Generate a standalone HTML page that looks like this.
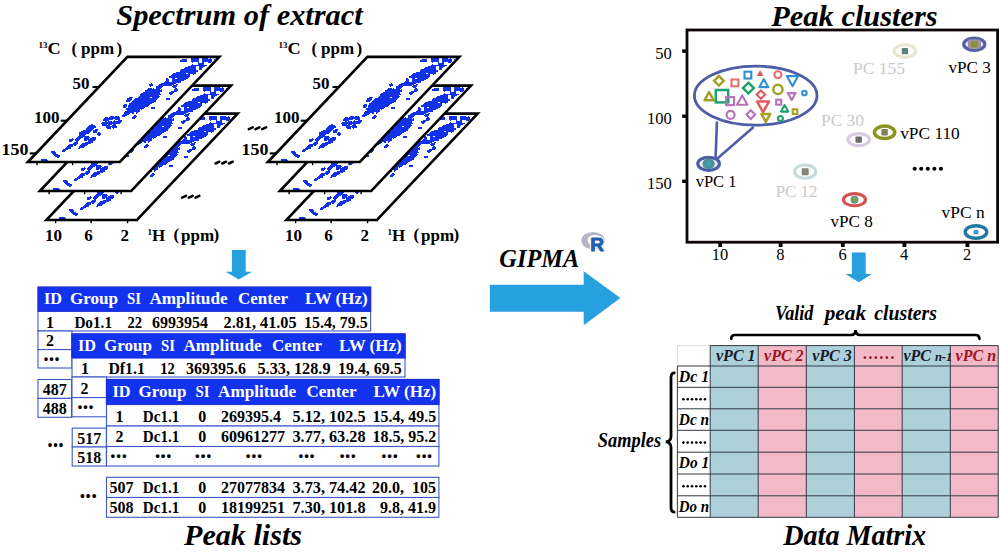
<!DOCTYPE html>
<html><head><meta charset="utf-8"><title>GIPMA workflow</title>
<style>html,body{margin:0;padding:0;background:#fff}svg{display:block}text{font-family:"Liberation Serif", serif;white-space:pre}</style></head><body>
<svg width="1000" height="555" viewBox="0 0 1000 555" font-family='"Liberation Serif", serif'>
<rect width="1000" height="555" fill="#fff"/>
<defs>
<path id="blob" d="M191 58h8v1h-8zM202 58h6v1h-6zM210 58h1v1h-1zM182 59h5v1h-5zM191 59h8v1h-8zM202 59h10v1h-10zM214 59h1v1h-1zM180 60h7v1h-7zM191 60h8v1h-8zM202 60h10v1h-10zM180 61h7v1h-7zM191 61h8v1h-8zM202 61h10v1h-10zM192 62h1v1h-1zM198 62h1v1h-1zM202 62h2v1h-2zM208 62h3v1h-3zM198 63h6v1h-6zM192 64h1v1h-1zM198 64h6v1h-6zM191 65h16v1h-16zM188 66h8v1h-8zM199 66h6v1h-6zM185 67h11v1h-11zM199 67h4v1h-4zM184 68h12v1h-12zM199 68h3v1h-3zM181 69h15v1h-15zM199 69h3v1h-3zM180 70h18v1h-18zM180 71h18v1h-18zM176 72h20v1h-20zM173 73h13v1h-13zM188 73h8v1h-8zM172 74h18v1h-18zM193 74h1v1h-1zM171 75h19v1h-19zM169 76h21v1h-21zM169 77h20v1h-20zM166 78h2v1h-2zM172 78h3v1h-3zM177 78h11v1h-11zM166 79h3v1h-3zM172 79h14v1h-14zM166 80h3v1h-3zM172 80h12v1h-12zM165 81h4v1h-4zM172 81h9v1h-9zM164 82h17v1h-17zM151 83h1v1h-1zM161 83h15v1h-15zM149 84h4v1h-4zM159 84h15v1h-15zM176 84h2v1h-2zM149 85h4v1h-4zM158 85h14v1h-14zM173 85h4v1h-4zM150 86h1v1h-1zM156 86h7v1h-7zM172 86h5v1h-5zM156 87h6v1h-6zM173 87h3v1h-3zM148 88h4v1h-4zM153 88h1v1h-1zM156 88h5v1h-5zM175 88h2v1h-2zM147 89h13v1h-13zM161 89h1v1h-1zM174 89h4v1h-4zM145 90h17v1h-17zM174 90h4v1h-4zM145 91h17v1h-17zM171 91h6v1h-6zM143 92h17v1h-17zM169 92h5v1h-5zM141 93h19v1h-19zM169 93h4v1h-4zM140 94h21v1h-21zM170 94h2v1h-2zM140 95h19v1h-19zM139 96h21v1h-21zM129 97h4v1h-4zM138 97h12v1h-12zM152 97h7v1h-7zM127 98h5v1h-5zM135 98h23v1h-23zM166 98h4v1h-4zM127 99h5v1h-5zM134 99h23v1h-23zM166 99h4v1h-4zM126 100h5v1h-5zM133 100h23v1h-23zM126 101h4v1h-4zM132 101h24v1h-24zM131 102h23v1h-23zM129 103h23v1h-23zM124 104h3v1h-3zM129 104h21v1h-21zM123 105h4v1h-4zM128 105h21v1h-21zM123 106h4v1h-4zM128 106h20v1h-20zM123 107h3v1h-3zM128 107h17v1h-17zM151 107h4v1h-4zM126 108h18v1h-18zM151 108h4v1h-4zM126 109h14v1h-14zM141 109h1v1h-1zM127 110h13v1h-13zM125 111h15v1h-15zM124 112h10v1h-10zM136 112h2v1h-2zM124 113h6v1h-6zM132 113h2v1h-2zM136 113h1v1h-1zM123 114h6v1h-6zM122 115h5v1h-5zM134 115h2v1h-2zM110 116h4v1h-4zM115 116h4v1h-4zM122 116h3v1h-3zM133 116h4v1h-4zM105 117h3v1h-3zM109 117h11v1h-11zM132 117h4v1h-4zM104 118h16v1h-16zM132 118h3v1h-3zM103 119h10v1h-10zM115 119h5v1h-5zM103 120h6v1h-6zM114 120h1v1h-1zM118 120h4v1h-4zM105 121h2v1h-2zM108 121h4v1h-4zM113 121h9v1h-9zM102 122h19v1h-19zM101 123h19v1h-19zM91 124h2v1h-2zM102 124h5v1h-5zM108 124h4v1h-4zM113 124h3v1h-3zM89 125h6v1h-6zM102 125h8v1h-8zM112 125h4v1h-4zM88 126h8v1h-8zM106 126h11v1h-11zM87 127h9v1h-9zM106 127h5v1h-5zM112 127h5v1h-5zM86 128h8v1h-8zM107 128h4v1h-4zM113 128h1v1h-1zM86 129h7v1h-7zM95 129h3v1h-3zM83 130h9v1h-9zM93 130h5v1h-5zM81 131h10v1h-10zM93 131h4v1h-4zM79 132h11v1h-11zM93 132h4v1h-4zM98 132h2v1h-2zM79 133h10v1h-10zM97 133h4v1h-4zM79 134h7v1h-7zM97 134h4v1h-4zM79 135h6v1h-6zM98 135h2v1h-2zM78 136h11v1h-11zM77 137h6v1h-6zM84 137h6v1h-6zM92 137h4v1h-4zM72 138h1v1h-1zM76 138h5v1h-5zM84 138h5v1h-5zM90 138h6v1h-6zM69 139h5v1h-5zM75 139h5v1h-5zM84 139h12v1h-12zM69 140h4v1h-4zM75 140h4v1h-4zM84 140h3v1h-3zM88 140h7v1h-7zM69 141h3v1h-3zM76 141h2v1h-2zM88 141h5v1h-5zM74 142h4v1h-4zM85 142h8v1h-8zM73 143h5v1h-5zM82 143h9v1h-9zM69 144h8v1h-8zM81 144h7v1h-7zM68 145h5v1h-5zM74 145h2v1h-2zM80 145h7v1h-7zM67 146h6v1h-6zM79 146h6v1h-6zM66 147h5v1h-5zM79 147h5v1h-5zM65 148h6v1h-6zM78 148h2v1h-2zM63 149h5v1h-5zM62 150h4v1h-4zM51 151h4v1h-4zM62 151h3v1h-3zM51 152h5v1h-5zM52 153h4v1h-4zM53 154h5v1h-5zM54 155h6v1h-6zM55 156h5v1h-5zM57 157h2v1h-2zM41 159h6v1h-6zM41 160h7v1h-7zM41 161h6v1h-6z" fill="#1232ea" shape-rendering="crispEdges"/>
<clipPath id="cs3"><polygon points="46.35,220.00 136.95,220.00 237.71,113.60 147.11,113.60"/></clipPath>
<g id="sheet3"><polygon points="46.35,220.00 136.95,220.00 237.71,113.60 147.11,113.60" fill="#fff"/><g clip-path="url(#cs3)"><use href="#blob" x="18" y="58"/></g><path d="M55.6 220.0v3.3M91.1 220.0v3.3M127.6 220.0v3.3" stroke="#000" stroke-width="1.4" fill="none"/><polygon points="46.35,220.00 136.95,220.00 237.71,113.60 147.11,113.60" fill="none" stroke="#000" stroke-width="2.6" stroke-linejoin="miter" stroke-miterlimit="10"/></g>
<clipPath id="cs2"><polygon points="39.85,191.00 131.25,191.00 231.06,85.60 139.66,85.60"/></clipPath>
<g id="sheet2"><polygon points="39.85,191.00 131.25,191.00 231.06,85.60 139.66,85.60" fill="#fff"/><g clip-path="url(#cs2)"><use href="#blob" x="12" y="29"/></g><path d="M49.1 191.0v3.3M84.6 191.0v3.3M121.1 191.0v3.3" stroke="#000" stroke-width="1.4" fill="none"/><polygon points="39.85,191.00 131.25,191.00 231.06,85.60 139.66,85.60" fill="none" stroke="#000" stroke-width="2.6" stroke-linejoin="miter" stroke-miterlimit="10"/></g>
<clipPath id="cs1"><polygon points="27.85,162.00 119.85,162.00 219.38,56.90 127.38,56.90"/></clipPath>
<g id="sheet1"><polygon points="27.85,162.00 119.85,162.00 219.38,56.90 127.38,56.90" fill="#fff"/><g clip-path="url(#cs1)"><use href="#blob" x="0" y="0"/></g><path d="M37.1 162.0v3.3M72.6 162.0v3.3M109.1 162.0v3.3" stroke="#000" stroke-width="1.4" fill="none"/><polygon points="27.85,162.00 119.85,162.00 219.38,56.90 127.38,56.90" fill="none" stroke="#000" stroke-width="2.6" stroke-linejoin="miter" stroke-miterlimit="10"/></g>
<g id="stack">
<use href="#sheet3"/>
<use href="#sheet2"/>
<use href="#sheet1"/>
<path d="M92.6 87.0h6.3" stroke="#000" stroke-width="2.1"/>
<path d="M60.7 120.7h6.3" stroke="#000" stroke-width="2.1"/>
<path d="M29.7 153.4h6.3" stroke="#000" stroke-width="2.1"/>
<text x="38.5" y="54.4" font-size="17" font-weight="bold"><tspan font-size="9" dy="-6">13</tspan><tspan dy="6" textLength="13.2" lengthAdjust="spacingAndGlyphs">C</tspan></text>
<text x="71.5" y="53.6" font-size="17" font-weight="bold">(</text>
<text x="81" y="54.4" font-size="17" font-weight="bold">ppm</text>
<text x="116.5" y="53.6" font-size="17" font-weight="bold">)</text>
<text x="89.4" y="88.5" font-size="17" font-weight="bold" text-anchor="end">50</text>
<text x="59.6" y="123.3" font-size="17" font-weight="bold" text-anchor="end">100</text>
<text x="28.4" y="154.9" font-size="17.5" font-weight="bold" text-anchor="end" textLength="26.8" lengthAdjust="spacingAndGlyphs">150</text>
<text x="53.6" y="240.5" font-size="17" font-weight="bold" text-anchor="middle">10</text>
<text x="88.5" y="240.5" font-size="17" font-weight="bold" text-anchor="middle">6</text>
<text x="124.7" y="240.5" font-size="17" font-weight="bold" text-anchor="middle">2</text>
<text x="147.6" y="240.6" font-size="17" font-weight="bold"><tspan font-size="9" dy="-6">1</tspan><tspan dy="6">H</tspan></text>
<text x="173.5" y="239.8" font-size="17" font-weight="bold">(</text>
<text x="181" y="240.6" font-size="17" font-weight="bold">ppm</text>
<text x="213.5" y="239.8" font-size="17" font-weight="bold">)</text>
</g>
</defs>
<text x="239.5" y="25.3" font-size="30" font-weight="bold" font-style="italic" text-anchor="middle" textLength="246.5" lengthAdjust="spacingAndGlyphs">Spectrum of extract</text>
<text x="854.5" y="25.8" font-size="30" font-weight="bold" font-style="italic" text-anchor="middle" textLength="166.4" lengthAdjust="spacingAndGlyphs">Peak clusters</text>
<text x="243" y="544.8" font-size="30" font-weight="bold" font-style="italic" text-anchor="middle" textLength="118" lengthAdjust="spacingAndGlyphs">Peak lists</text>
<text x="854.7" y="544.8" font-size="29" font-weight="bold" font-style="italic" text-anchor="middle" textLength="143" lengthAdjust="spacingAndGlyphs">Data Matrix</text>
<use href="#stack"/>
<use href="#stack" x="240"/>
<path d="M248.8 129.2L252.7 127.4M255.5 129.2L259.4 127.4M262.2 129.2L266.1 127.4M215.5 163.5L219.4 161.7M222.2 163.5L226.1 161.7M228.9 163.5L232.8 161.7M182.1 197.7L186.0 195.9M188.8 197.7L192.7 195.9M195.5 197.7L199.4 195.9" stroke="#000" stroke-width="2.5" stroke-linecap="round" fill="none"/>
<polygon fill="#27a0df" points="231.9,250.1 245.7,250.1 245.7,271.8 252.1,271.8 238.8,279.5 225.6,271.8 231.9,271.8"/>
<polygon fill="#27a0df" points="851.9,252.4 865.7,252.4 865.7,274.0 872.0,274.0 858.8,282.2 845.5,274.0 851.9,274.0"/>
<polygon fill="#27a0df" points="489.8,284.8 583.7,284.8 583.7,271.3 620.4,297.9 583.7,325.3 583.7,311.8 489.8,311.8"/>
<text x="499.3" y="266.8" font-size="25" font-weight="bold" font-style="italic" textLength="80" lengthAdjust="spacingAndGlyphs">GIPMA</text>
<rect x="38" y="287" width="332.6" height="44" fill="#fff" stroke="#3d58c8" stroke-width="1.1"/>
<rect x="38" y="331" width="34" height="18.600000000000023" fill="#fff" stroke="#3d58c8" stroke-width="1.1"/>
<rect x="38" y="349.6" width="34" height="18.399999999999977" fill="#fff" stroke="#3d58c8" stroke-width="1.1"/>
<rect x="38.0" y="287.09999999999997" width="332.8" height="24.5" fill="#1332ee" stroke="#1626d2" stroke-width="0.8"/>
<text x="44" y="303.6" font-size="17" font-weight="bold" fill="#fff" textLength="18" lengthAdjust="spacingAndGlyphs">ID</text>
<text x="70" y="303.6" font-size="17" font-weight="bold" fill="#fff" textLength="48" lengthAdjust="spacingAndGlyphs">Group</text>
<text x="127" y="303.6" font-size="17" font-weight="bold" fill="#fff" textLength="14" lengthAdjust="spacingAndGlyphs">SI</text>
<text x="149.4" y="303.6" font-size="17" font-weight="bold" fill="#fff" textLength="78.2" lengthAdjust="spacingAndGlyphs">Amplitude</text>
<text x="238" y="303.6" font-size="17" font-weight="bold" fill="#fff" textLength="50" lengthAdjust="spacingAndGlyphs">Center</text>
<text x="305" y="303.6" font-size="17" font-weight="bold" fill="#fff" textLength="62.6" lengthAdjust="spacingAndGlyphs">LW (Hz)</text>
<text x="50" y="327.5" font-size="16" font-weight="bold" text-anchor="middle">1</text>
<text x="74.4" y="327.5" font-size="16" font-weight="bold" textLength="37.6" lengthAdjust="spacingAndGlyphs">Do1.1</text>
<text x="127.4" y="327.5" font-size="16" font-weight="bold" textLength="14.6" lengthAdjust="spacingAndGlyphs">22</text>
<text x="152" y="327.5" font-size="16" font-weight="bold" textLength="56" lengthAdjust="spacingAndGlyphs">6993954</text>
<text x="223.6" y="327.5" font-size="16" font-weight="bold" textLength="73" lengthAdjust="spacingAndGlyphs">2.81, 41.05</text>
<text x="304" y="327.5" font-size="16" font-weight="bold" textLength="63.6" lengthAdjust="spacingAndGlyphs">15.4, 79.5</text>
<text x="50" y="346.0" font-size="16" font-weight="bold" text-anchor="middle">2</text>
<text x="43.3" y="360.8" font-size="24" font-weight="bold" textLength="16.5" lengthAdjust="spacingAndGlyphs">...</text>
<rect x="38" y="379.5" width="33.599999999999994" height="18.899999999999977" fill="#fff" stroke="#3d58c8" stroke-width="1.1"/>
<rect x="38" y="398.4" width="33.599999999999994" height="18.900000000000034" fill="#fff" stroke="#3d58c8" stroke-width="1.1"/>
<text x="54.8" y="395.0" font-size="16" font-weight="bold" text-anchor="middle">487</text>
<text x="54.8" y="414.0" font-size="16" font-weight="bold" text-anchor="middle">488</text>
<rect x="72" y="334" width="333" height="43" fill="#fff" stroke="#3d58c8" stroke-width="1.1"/>
<rect x="72" y="377" width="34.5" height="20.600000000000023" fill="#fff" stroke="#3d58c8" stroke-width="1.1"/>
<rect x="72" y="397.6" width="34.5" height="19.19999999999999" fill="#fff" stroke="#3d58c8" stroke-width="1.1"/>
<rect x="71.80000000000001" y="333.79999999999995" width="333.4" height="24.3" fill="#1332ee" stroke="#1626d2" stroke-width="0.8"/>
<text x="78" y="350.6" font-size="17" font-weight="bold" fill="#fff" textLength="18" lengthAdjust="spacingAndGlyphs">ID</text>
<text x="104" y="350.6" font-size="17" font-weight="bold" fill="#fff" textLength="48" lengthAdjust="spacingAndGlyphs">Group</text>
<text x="161" y="350.6" font-size="17" font-weight="bold" fill="#fff" textLength="14" lengthAdjust="spacingAndGlyphs">SI</text>
<text x="183.4" y="350.6" font-size="17" font-weight="bold" fill="#fff" textLength="78.2" lengthAdjust="spacingAndGlyphs">Amplitude</text>
<text x="272" y="350.6" font-size="17" font-weight="bold" fill="#fff" textLength="50" lengthAdjust="spacingAndGlyphs">Center</text>
<text x="339" y="350.6" font-size="17" font-weight="bold" fill="#fff" textLength="62.6" lengthAdjust="spacingAndGlyphs">LW (Hz)</text>
<text x="85" y="374.0" font-size="16" font-weight="bold" text-anchor="middle">1</text>
<text x="108.4" y="374.0" font-size="16" font-weight="bold" textLength="36.5" lengthAdjust="spacingAndGlyphs">Df1.1</text>
<text x="160.3" y="374.0" font-size="16" font-weight="bold" textLength="14.6" lengthAdjust="spacingAndGlyphs">12</text>
<text x="186" y="374.0" font-size="16" font-weight="bold" textLength="60" lengthAdjust="spacingAndGlyphs">369395.6</text>
<text x="257.5" y="374.0" font-size="16" font-weight="bold" textLength="73" lengthAdjust="spacingAndGlyphs">5.33, 128.9</text>
<text x="338" y="374.0" font-size="16" font-weight="bold" textLength="63.6" lengthAdjust="spacingAndGlyphs">19.4, 69.5</text>
<text x="84.6" y="393.7" font-size="16" font-weight="bold" text-anchor="middle">2</text>
<text x="77.3" y="408.8" font-size="24" font-weight="bold" textLength="16.5" lengthAdjust="spacingAndGlyphs">...</text>
<rect x="72.2" y="428.1" width="34.2" height="18.899999999999977" fill="#fff" stroke="#3d58c8" stroke-width="1.1"/>
<rect x="72.2" y="447" width="34.2" height="19" fill="#fff" stroke="#3d58c8" stroke-width="1.1"/>
<text x="89.3" y="443.8" font-size="16" font-weight="bold" text-anchor="middle">517</text>
<text x="89.3" y="462.8" font-size="16" font-weight="bold" text-anchor="middle">518</text>
<rect x="106.5" y="379.5" width="332.4" height="46.5" fill="#fff" stroke="#3d58c8" stroke-width="1.1"/>
<rect x="106.5" y="426" width="332.4" height="20.5" fill="#fff" stroke="#3d58c8" stroke-width="1.1"/>
<rect x="106.5" y="446.5" width="332.4" height="19.5" fill="#fff" stroke="#3d58c8" stroke-width="1.1"/>
<rect x="106.30000000000001" y="379.29999999999995" width="332.8" height="25.4" fill="#1332ee" stroke="#1626d2" stroke-width="0.8"/>
<text x="112.5" y="396.6" font-size="17" font-weight="bold" fill="#fff" textLength="18" lengthAdjust="spacingAndGlyphs">ID</text>
<text x="138.5" y="396.6" font-size="17" font-weight="bold" fill="#fff" textLength="48" lengthAdjust="spacingAndGlyphs">Group</text>
<text x="195.5" y="396.6" font-size="17" font-weight="bold" fill="#fff" textLength="14" lengthAdjust="spacingAndGlyphs">SI</text>
<text x="218" y="396.6" font-size="17" font-weight="bold" fill="#fff" textLength="78.2" lengthAdjust="spacingAndGlyphs">Amplitude</text>
<text x="306.5" y="396.6" font-size="17" font-weight="bold" fill="#fff" textLength="50" lengthAdjust="spacingAndGlyphs">Center</text>
<text x="373.5" y="396.6" font-size="17" font-weight="bold" fill="#fff" textLength="62.6" lengthAdjust="spacingAndGlyphs">LW (Hz)</text>
<text x="119.5" y="421.5" font-size="16" font-weight="bold" text-anchor="middle">1</text>
<text x="142.8" y="421.5" font-size="16" font-weight="bold" textLength="36.5" lengthAdjust="spacingAndGlyphs">Dc1.1</text>
<text x="202.3" y="421.5" font-size="16" font-weight="bold" text-anchor="middle">0</text>
<text x="221" y="421.5" font-size="16" font-weight="bold" textLength="60" lengthAdjust="spacingAndGlyphs">269395.4</text>
<text x="292.5" y="421.5" font-size="16" font-weight="bold" textLength="73" lengthAdjust="spacingAndGlyphs">5.12, 102.5</text>
<text x="372.5" y="421.5" font-size="16" font-weight="bold" textLength="63.6" lengthAdjust="spacingAndGlyphs">15.4, 49.5</text>
<text x="119.5" y="442.0" font-size="16" font-weight="bold" text-anchor="middle">2</text>
<text x="142.8" y="442.0" font-size="16" font-weight="bold" textLength="36.5" lengthAdjust="spacingAndGlyphs">Dc1.1</text>
<text x="202.3" y="442.0" font-size="16" font-weight="bold" text-anchor="middle">0</text>
<text x="221" y="442.0" font-size="16" font-weight="bold" textLength="64" lengthAdjust="spacingAndGlyphs">60961277</text>
<text x="292.5" y="442.0" font-size="16" font-weight="bold" textLength="73" lengthAdjust="spacingAndGlyphs">3.77, 63.28</text>
<text x="372.5" y="442.0" font-size="16" font-weight="bold" textLength="63.6" lengthAdjust="spacingAndGlyphs">18.5, 95.2</text>
<text x="110.1" y="458.1" font-size="24" font-weight="bold" textLength="17" lengthAdjust="spacingAndGlyphs">...</text>
<text x="154.7" y="458.1" font-size="24" font-weight="bold" textLength="17" lengthAdjust="spacingAndGlyphs">...</text>
<text x="194.6" y="458.1" font-size="24" font-weight="bold" textLength="17" lengthAdjust="spacingAndGlyphs">...</text>
<text x="245.3" y="458.1" font-size="24" font-weight="bold" textLength="17" lengthAdjust="spacingAndGlyphs">...</text>
<text x="298.0" y="458.1" font-size="24" font-weight="bold" textLength="17" lengthAdjust="spacingAndGlyphs">...</text>
<text x="339.2" y="458.1" font-size="24" font-weight="bold" textLength="17" lengthAdjust="spacingAndGlyphs">...</text>
<text x="381.1" y="458.1" font-size="24" font-weight="bold" textLength="17" lengthAdjust="spacingAndGlyphs">...</text>
<text x="415.5" y="458.1" font-size="24" font-weight="bold" textLength="17" lengthAdjust="spacingAndGlyphs">...</text>
<rect x="106.5" y="477.3" width="332.4" height="20.19999999999999" fill="#fff" stroke="#3d58c8" stroke-width="1.1"/>
<rect x="106.5" y="497.5" width="332.4" height="19.799999999999955" fill="#fff" stroke="#3d58c8" stroke-width="1.1"/>
<text x="109.5" y="493.0" font-size="16" font-weight="bold" textLength="24" lengthAdjust="spacingAndGlyphs">507</text>
<text x="142.8" y="493.0" font-size="16" font-weight="bold" textLength="36.5" lengthAdjust="spacingAndGlyphs">Dc1.1</text>
<text x="202.3" y="493.0" font-size="16" font-weight="bold" text-anchor="middle">0</text>
<text x="221" y="493.0" font-size="16" font-weight="bold" textLength="64" lengthAdjust="spacingAndGlyphs">27077834</text>
<text x="292.5" y="493.0" font-size="16" font-weight="bold" textLength="73" lengthAdjust="spacingAndGlyphs">3.73, 74.42</text>
<text x="436" y="493.0" font-size="16" font-weight="bold" text-anchor="end">20.0,  105</text>
<text x="109.5" y="513.0" font-size="16" font-weight="bold" textLength="24" lengthAdjust="spacingAndGlyphs">508</text>
<text x="142.8" y="513.0" font-size="16" font-weight="bold" textLength="36.5" lengthAdjust="spacingAndGlyphs">Dc1.1</text>
<text x="202.3" y="513.0" font-size="16" font-weight="bold" text-anchor="middle">0</text>
<text x="221" y="513.0" font-size="16" font-weight="bold" textLength="64" lengthAdjust="spacingAndGlyphs">18199251</text>
<text x="292.5" y="513.0" font-size="16" font-weight="bold" textLength="73" lengthAdjust="spacingAndGlyphs">7.30, 101.8</text>
<text x="436" y="513.0" font-size="16" font-weight="bold" text-anchor="end">9.8, 41.9</text>
<text x="47.2" y="447.3" font-size="26" font-weight="bold" textLength="16.5" lengthAdjust="spacingAndGlyphs">...</text>
<text x="79.5" y="498.1" font-size="26" font-weight="bold" textLength="17.5" lengthAdjust="spacingAndGlyphs">...</text>
<ellipse cx="593.1" cy="240.7" rx="11.8" ry="8.7" fill="#b3b6c3"/>
<ellipse cx="594.9" cy="240.3" rx="7.4" ry="5.5" fill="#fff"/>
<text x="590.2" y="251.3" style="font-family:'Liberation Sans',sans-serif;font-weight:bold;font-size:19px" fill="#fff" stroke="#fff" stroke-width="3" stroke-linejoin="round">R</text>
<text x="590.2" y="251.3" style="font-family:'Liberation Sans',sans-serif;font-weight:bold;font-size:19px" fill="#1f5fb0" stroke="#1f5fb0" stroke-width="1" stroke-linejoin="round">R</text>
<rect x="682.2" y="49.4" width="4.8" height="3.4"/>
<text x="671.8" y="58.6" font-size="16.5" text-anchor="end">50</text>
<rect x="682.2" y="114.5" width="4.8" height="3.4"/>
<text x="671.8" y="123.7" font-size="16.5" text-anchor="end">100</text>
<rect x="682.2" y="179.60000000000002" width="4.8" height="3.4"/>
<text x="671.8" y="188.8" font-size="16.5" text-anchor="end">150</text>
<rect x="718.3000000000001" y="242.2" width="3.8" height="4.8"/>
<text x="719.9000000000001" y="260.3" font-size="16.5" text-anchor="middle">10</text>
<rect x="778.7" y="242.2" width="3.8" height="4.8"/>
<text x="780.3000000000001" y="260.3" font-size="16.5" text-anchor="middle">8</text>
<rect x="840.9" y="242.2" width="3.8" height="4.8"/>
<text x="842.5" y="260.3" font-size="16.5" text-anchor="middle">6</text>
<rect x="902.5" y="242.2" width="3.8" height="4.8"/>
<text x="904.1" y="260.3" font-size="16.5" text-anchor="middle">4</text>
<rect x="965.5" y="242.2" width="3.8" height="4.8"/>
<text x="967.1" y="260.3" font-size="16.5" text-anchor="middle">2</text>
<rect x="687" y="30" width="310.6" height="212.2" fill="none" stroke="#0c0406" stroke-width="2.8"/>
<path d="M716.9 122.5L715.6 157M753 127.5L718 158" stroke="#4c5fa6" stroke-width="2.6" fill="none" stroke-linecap="round"/>
<ellipse cx="755.7" cy="95.6" rx="61.3" ry="29.5" fill="#fff" stroke="#4c5fa6" stroke-width="2.8"/>
<polygon points="718.9,76.0 723.7,80.8 718.9,85.6 714.1,80.8" fill="none" stroke="#a3a022" stroke-width="2.5"/>
<rect x="731.5" y="79.5" width="6.8" height="6.8" fill="none" stroke="#e8706c" stroke-width="2.1"/>
<rect x="744.5" y="71.7" width="6.8" height="6.8" fill="none" stroke="#2f8fd2" stroke-width="2.1"/>
<polygon points="760.1,71.2 762.5,75.5 757.7,75.5" fill="#e2595c" stroke="#e2595c" stroke-width="1.2" stroke-linejoin="round"/>
<circle cx="777.9" cy="74.7" r="3.5" fill="none" stroke="#e8706c" stroke-width="2.1"/>
<polygon points="792.5,86.2 798.1,76.1 786.9,76.1" fill="none" stroke="#2f8fd2" stroke-width="2.1" stroke-linejoin="round"/>
<circle cx="804.4" cy="93.0" r="2.3" fill="none" stroke="#2f8fd2" stroke-width="2.1"/>
<polygon points="763.8,79.2 768.2,87.1 759.4,87.1" fill="none" stroke="#2f8fd2" stroke-width="2.1" stroke-linejoin="round"/>
<polygon points="748.4,82.7 753.8,88.1 748.4,93.5 743.0,88.1" fill="none" stroke="#1fa36a" stroke-width="2.5"/>
<circle cx="777.9" cy="89.4" r="4.6" fill="none" stroke="#a3a022" stroke-width="2.5"/>
<polygon points="709.1,92.0 713.7,100.3 704.5,100.3" fill="none" stroke="#a3a022" stroke-width="2.5" stroke-linejoin="round"/>
<rect x="715.8" y="90.0" width="12.4" height="12.4" fill="none" stroke="#1fa36a" stroke-width="2.5"/>
<rect x="726.1" y="97.1" width="8.0" height="8.0" fill="none" stroke="#b673bb" stroke-width="2.1"/>
<polygon points="742.2,95.4 747.4,104.8 737.0,104.8" fill="none" stroke="#b673bb" stroke-width="2.1" stroke-linejoin="round"/>
<polygon points="760.9,90.4 765.1,94.6 760.9,98.8 756.7,94.6" fill="none" stroke="#e2595c" stroke-width="2.1"/>
<polygon points="763.0,112.2 769.0,101.4 757.0,101.4" fill="none" stroke="#e2595c" stroke-width="2.5" stroke-linejoin="round"/>
<rect x="776.2" y="99.7" width="5.0" height="5.0" fill="none" stroke="#b673bb" stroke-width="2.1"/>
<polygon points="791.7,100.1 795.6,93.1 787.8,93.1" fill="none" stroke="#b673bb" stroke-width="2.1" stroke-linejoin="round"/>
<polygon points="784.6,105.1 788.2,111.6 781.0,111.6" fill="none" stroke="#1fa36a" stroke-width="2.1" stroke-linejoin="round"/>
<rect x="792.7" y="109.3" width="4.6" height="4.6" fill="none" stroke="#a3a022" stroke-width="2.1"/>
<circle cx="730.6" cy="114.9" r="4.0" fill="none" stroke="#b673bb" stroke-width="2.1"/>
<polygon points="750.8,110.3 755.1,114.6 750.8,118.9 746.5,114.6" fill="none" stroke="#b673bb" stroke-width="2.1"/>
<polygon points="765.8,121.8 770.2,113.9 761.4,113.9" fill="none" stroke="#a3a022" stroke-width="2.5" stroke-linejoin="round"/>
<circle cx="780.4" cy="118.5" r="2.5" fill="none" stroke="#1fa36a" stroke-width="2.1"/>
<ellipse cx="708.6" cy="163.8" rx="10.8" ry="6.5" fill="#eef3f4" stroke="#4c5fa6" stroke-width="3.2"/>
<ellipse cx="708.6" cy="163.8" rx="6.2" ry="5.3" fill="#4c9494"/>
<circle cx="708.6" cy="163.8" r="2.4" fill="#3f9dc6"/>
<text x="695.7" y="186.7" font-size="17.3" textLength="40.8" lengthAdjust="spacingAndGlyphs">vPC 1</text>
<ellipse cx="904.9" cy="51.1" rx="10.8" ry="6.3" fill="#fff" stroke="#e9e7d3" stroke-width="3.0"/>
<rect x="901.8" y="48.0" width="6.2" height="6.2" rx="0.8" fill="#5b8379"/>
<text x="853.1" y="73.6" font-size="17.4" fill="#c9c9c9" textLength="52" lengthAdjust="spacingAndGlyphs">PC 155</text>
<ellipse cx="974.3" cy="44.2" rx="10.5" ry="6.1" fill="#fff" stroke="#5361a9" stroke-width="3.3"/>
<rect x="967.6" y="39.6" width="13.4" height="9.2" rx="2" fill="#a58fa6"/>
<rect x="971.0" y="40.9" width="6.6" height="6.6" rx="0.8" fill="#8f9338"/>
<text x="948.4" y="73.3" font-size="17.3" textLength="42.5" lengthAdjust="spacingAndGlyphs">vPC 3</text>
<ellipse cx="884.6" cy="132.3" rx="10.2" ry="6.2" fill="#fff" stroke="#8b951f" stroke-width="3.5"/>
<rect x="881.4" y="129.10000000000002" width="6.4" height="6.4" rx="0.8" fill="#85805a"/>
<text x="900.2" y="139.2" font-size="17.3" textLength="59.6" lengthAdjust="spacingAndGlyphs">vPC 110</text>
<ellipse cx="858.7" cy="139.6" rx="10.8" ry="6.0" fill="#fff" stroke="#d9cbe2" stroke-width="3.1"/>
<rect x="855.5" y="136.4" width="6.4" height="6.4" rx="0.8" fill="#6f6c70"/>
<text x="821.0" y="125.8" font-size="17.4" fill="#c9c9c9" textLength="42.9" lengthAdjust="spacingAndGlyphs">PC 30</text>
<ellipse cx="805.2" cy="171.7" rx="10.6" ry="6.6" fill="#fff" stroke="#c3deda" stroke-width="3.0"/>
<rect x="801.7" y="168.2" width="7.0" height="7.0" rx="0.8" fill="#85847c"/>
<text x="775.7" y="196.7" font-size="17.4" fill="#c9c9c9" textLength="41.8" lengthAdjust="spacingAndGlyphs">PC 12</text>
<ellipse cx="854.5" cy="199.7" rx="11.0" ry="6.1" fill="#fff" stroke="#d4524f" stroke-width="3.1"/>
<ellipse cx="854.5" cy="199.7" rx="4.0" ry="4.0" fill="#5b9a9e"/>
<circle cx="854.5" cy="199.7" r="2.4" fill="#8fa238"/>
<text x="830.5" y="226.5" font-size="17.3" textLength="42.3" lengthAdjust="spacingAndGlyphs">vPC 8</text>
<ellipse cx="976.0" cy="232.0" rx="10.8" ry="6.3" fill="#fff" stroke="#1f7a9c" stroke-width="3.4"/>
<circle cx="976.0" cy="232.0" r="2.6" fill="#4792c4"/>
<text x="941.5" y="218.1" font-size="17.3" textLength="43.1" lengthAdjust="spacingAndGlyphs">vPC n</text>
<circle cx="914.7" cy="168.8" r="2.05"/>
<circle cx="921.2" cy="168.8" r="2.05"/>
<circle cx="927.8" cy="168.8" r="2.05"/>
<circle cx="934.4" cy="168.8" r="2.05"/>
<circle cx="940.9" cy="168.8" r="2.05"/>
<rect x="710.2" y="345.6" width="48.0" height="171.7" fill="#aed0da"/>
<rect x="758.2" y="345.6" width="48.1" height="171.7" fill="#f3b9c6"/>
<rect x="806.3" y="345.6" width="48.1" height="171.7" fill="#aed0da"/>
<rect x="854.4" y="345.6" width="47.8" height="171.7" fill="#f3b9c6"/>
<rect x="902.2" y="345.6" width="48.1" height="171.7" fill="#aed0da"/>
<rect x="950.3" y="345.6" width="47.9" height="171.7" fill="#f3b9c6"/>
<path d="M677.4 366.0V345.6H710.2" stroke="#dcdcdc" stroke-width="1" fill="none"/>
<path d="M677.4 366.0H998.2M677.4 387.3H998.2M677.4 408.8H998.2M677.4 430.3H998.2M677.4 452.2H998.2M677.4 474.0H998.2M677.4 495.8H998.2M677.4 517.3H998.2M710.2 345.6H998.2M710.2 345.6V517.3M758.2 345.6V517.3M806.3 345.6V517.3M854.4 345.6V517.3M902.2 345.6V517.3M950.3 345.6V517.3M998.2 345.6V517.3M677.4 366.0V517.3" stroke="#333a44" stroke-width="1" fill="none"/>
<text x="735.8000000000001" y="360.8" font-size="16" font-weight="bold" font-style="italic" fill="#171b2c" text-anchor="middle">vPC 1</text>
<text x="783.85" y="360.8" font-size="16" font-weight="bold" font-style="italic" fill="#9c1424" text-anchor="middle">vPC 2</text>
<text x="831.9499999999999" y="360.8" font-size="16" font-weight="bold" font-style="italic" fill="#171b2c" text-anchor="middle">vPC 3</text>
<circle cx="864.9" cy="357.6" r="1.35" fill="#9c1424"/>
<circle cx="870.4" cy="357.6" r="1.35" fill="#9c1424"/>
<circle cx="875.9" cy="357.6" r="1.35" fill="#9c1424"/>
<circle cx="881.4" cy="357.6" r="1.35" fill="#9c1424"/>
<circle cx="886.9" cy="357.6" r="1.35" fill="#9c1424"/>
<circle cx="892.4" cy="357.6" r="1.35" fill="#9c1424"/>
<text x="927.85" y="360.8" font-size="16" font-weight="bold" font-style="italic" fill="#171b2c" text-anchor="middle">vPC <tspan font-size="12.5">n-1</tspan></text>
<text x="975.85" y="360.8" font-size="16" font-weight="bold" font-style="italic" fill="#9c1424" text-anchor="middle">vPC n</text>
<text x="678.8" y="381.70000000000005" font-size="16" font-weight="bold" font-style="italic" textLength="30.4" lengthAdjust="spacingAndGlyphs">Dc 1</text>
<circle cx="683.4" cy="399.2" r="1.3"/>
<circle cx="687.7" cy="399.2" r="1.3"/>
<circle cx="692.0" cy="399.2" r="1.3"/>
<circle cx="696.3" cy="399.2" r="1.3"/>
<circle cx="700.6" cy="399.2" r="1.3"/>
<circle cx="704.9" cy="399.2" r="1.3"/>
<text x="678.8" y="424.70000000000005" font-size="16" font-weight="bold" font-style="italic" textLength="30.4" lengthAdjust="spacingAndGlyphs">Dc n</text>
<circle cx="683.4" cy="442.6" r="1.3"/>
<circle cx="687.7" cy="442.6" r="1.3"/>
<circle cx="692.0" cy="442.6" r="1.3"/>
<circle cx="696.3" cy="442.6" r="1.3"/>
<circle cx="700.6" cy="442.6" r="1.3"/>
<circle cx="704.9" cy="442.6" r="1.3"/>
<text x="678.8" y="468.40000000000003" font-size="16" font-weight="bold" font-style="italic" textLength="30.4" lengthAdjust="spacingAndGlyphs">Do 1</text>
<circle cx="683.4" cy="486.2" r="1.3"/>
<circle cx="687.7" cy="486.2" r="1.3"/>
<circle cx="692.0" cy="486.2" r="1.3"/>
<circle cx="696.3" cy="486.2" r="1.3"/>
<circle cx="700.6" cy="486.2" r="1.3"/>
<circle cx="704.9" cy="486.2" r="1.3"/>
<text x="678.8" y="511.69999999999993" font-size="16" font-weight="bold" font-style="italic" textLength="30.4" lengthAdjust="spacingAndGlyphs">Do n</text>
<text x="775.1" y="320.4" font-size="20.5" font-weight="bold" font-style="italic" textLength="38.3" lengthAdjust="spacingAndGlyphs">Valid</text>
<text x="824.7" y="320.4" font-size="20.5" font-weight="bold" font-style="italic" textLength="41.4" lengthAdjust="spacingAndGlyphs">peak</text>
<text x="874.3" y="320.4" font-size="20.5" font-weight="bold" font-style="italic" textLength="62.7" lengthAdjust="spacingAndGlyphs">clusters</text>
<path d="M731.2 338.8C731.2 336 732.2 335 735 335H851.5C854.2 335 855.3 333.6 855.6 330.2C855.9 333.6 857 335 859.7 335H975.6C978.4 335 979.4 336 979.4 338.8" fill="none" stroke="#000" stroke-width="2.7" stroke-linecap="round"/>
<text x="597.8" y="446.7" font-size="20" font-weight="bold" font-style="italic" textLength="63.4" lengthAdjust="spacingAndGlyphs">Samples</text>
<path d="M674.2 372.8C671.8 373 671 374.6 671 377.6V436.6C671 440 669.4 441.6 665.8 441.9C669.4 442.2 671 443.8 671 447.2V507.4C671 510.4 671.8 512 674.2 512.2" fill="none" stroke="#000" stroke-width="2.8" stroke-linecap="round"/>
<!--MORE3-->
</svg></body></html>
